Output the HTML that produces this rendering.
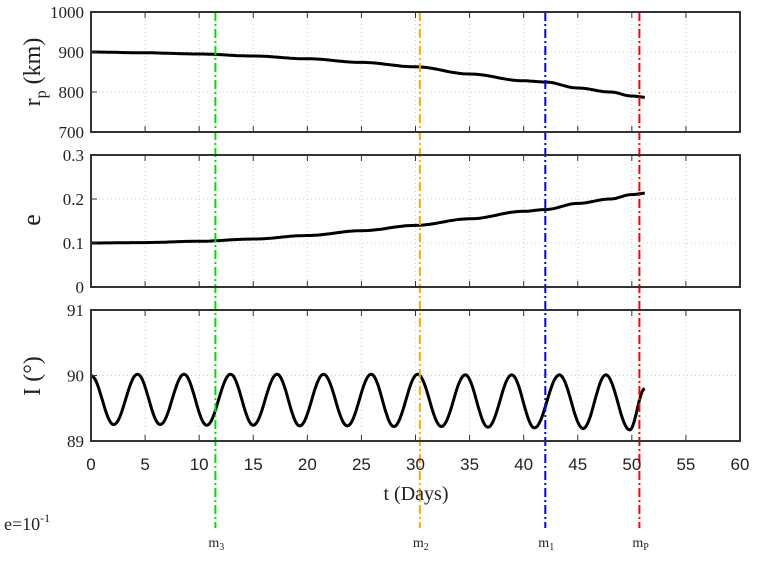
<!DOCTYPE html>
<html><head><meta charset="utf-8"><style>
html,body{margin:0;padding:0;background:#fff;}
svg{display:block;font-family:"Liberation Serif",serif;}
</style></head><body>
<svg id="chart" width="763" height="573" xmlns="http://www.w3.org/2000/svg">
<g id="grid"></g><g id="lines"></g><g id="frames"></g><g id="labels"></g>
</svg>
<script>
const xTicks=[0,5,10,15,20,25,30,35,40,45,50,55,60];
const rpTimes=[0,5,10,15,20,25,30,35,40,42,45,48,50,51.2];
const rpValues=[900,898,895,890,883,874,863,845,828,825,810,800,790,787];
const eTimes=[0,5,10,15,20,25,30,35,40,42,45,48,50,51.2];
const eValues=[0.100,0.101,0.104,0.109,0.117,0.128,0.140,0.155,0.172,0.176,0.190,0.200,0.210,0.213];
const iTimes=[0,2.1,4.3,6.4,8.6,10.7,12.9,15.0,17.2,19.3,21.5,23.7,25.9,28.0,30.2,32.4,34.6,36.7,38.9,41.0,43.3,45.5,47.6,49.8,51.2];
const iValues=[90.0,89.25,90.02,89.25,90.02,89.24,90.02,89.24,90.02,89.23,90.02,89.23,90.02,89.22,90.02,89.22,90.01,89.21,90.01,89.2,90.01,89.19,90.01,89.17,89.8];
const markerTimes=[11.5,30.4,42.0,50.7];
const markerLabels=["3","2","1","P"];
const markerColors=["#00e000","#ffa500","#0000ff","#ff0000"];
const rpTicks=[700,800,900,1000];
const eTicks=[0,0.1,0.2,0.3];
const iTicks=[89,90,91];

const NS="http://www.w3.org/2000/svg";
const X0=91,X1=740;
const xs=t=>X0+(t-0)/(60-0)*(X1-X0);
const panels=[
 {name:"rp",top:12,bot:132,min:700,max:1000,ticks:rpTicks,fmt:v=>String(v)},
 {name:"e",top:155,bot:287,min:0,max:0.3,ticks:eTicks,fmt:v=>v===0?"0":v.toFixed(1)},
 {name:"i",top:310,bot:441,min:89,max:91,ticks:iTicks,fmt:v=>String(v)}
];
function ys(p,v){return p.bot-(v-p.min)/(p.max-p.min)*(p.bot-p.top);}
function mk(tag,attrs,parent,txt){const e=document.createElementNS(NS,tag);for(const k in attrs)e.setAttribute(k,attrs[k]);if(txt!==undefined)e.textContent=txt;document.getElementById(parent).appendChild(e);return e;}

panels.forEach(p=>{
 xTicks.forEach(t=>{
  if(t>0&&t<60){
   const g=mk("line",{x1:xs(t),x2:xs(t),y1:p.top,y2:p.bot,stroke:"#ccc","stroke-width":1,"stroke-dasharray":"1,3"},"grid");
   
   
   mk("line",{x1:xs(t),x2:xs(t),y1:p.bot,y2:p.bot-6,stroke:"#333","stroke-width":1},"frames");
   mk("line",{x1:xs(t),x2:xs(t),y1:p.top,y2:p.top+6,stroke:"#333","stroke-width":1},"frames");
  }
 });
 p.ticks.forEach(v=>{
  const y=ys(p,v);
  if(v!==p.min&&v!==p.max){
   const g=mk("line",{x1:X0,x2:X1,y1:y,y2:y,stroke:"#ccc","stroke-width":1,"stroke-dasharray":"1,3"},"grid");
   
   
   mk("line",{x1:X0,x2:X0+6,y1:y,y2:y,stroke:"#333"},"frames");
  }
  const tl=mk("text",{x:84,y:y+6,"text-anchor":"end","font-size":17,fill:"#222"},"labels",p.fmt(v));
  
  
 });
 const f=mk("rect",{x:X0,y:p.top,width:X1-X0,height:p.bot-p.top,fill:"none",stroke:"#333","stroke-width":2},"frames");
 
 
});

function linePath(p,ts,vs){return ts.map((t,i)=>(i?"L":"M")+xs(t).toFixed(1)+","+ys(p,vs[i]).toFixed(1)).join("");}
function cosPath(p,ts,vs){
 let d="M"+xs(ts[0])+","+ys(p,vs[0]);
 for(let i=0;i<ts.length-1;i++){
  for(let k=1;k<=16;k++){const f=k/16,w=(1-Math.cos(Math.PI*f))/2;
   const t=ts[i]+(ts[i+1]-ts[i])*f,v=vs[i]+(vs[i+1]-vs[i])*w;
   d+="L"+xs(t).toFixed(1)+","+ys(p,v).toFixed(1);}
 }
 return d;
}
let s=mk("path",{d:cosPath(panels[0],rpTimes,rpValues),fill:"none",stroke:"#000","stroke-width":3},"lines");


s=mk("path",{d:cosPath(panels[1],eTimes,eValues),fill:"none",stroke:"#000","stroke-width":3},"lines");


s=mk("path",{d:cosPath(panels[2],iTimes,iValues),fill:"none",stroke:"#000","stroke-width":3},"lines");



markerTimes.forEach((t,i)=>{
 const l=mk("line",{x1:xs(t),x2:xs(t),y1:12,y2:528,stroke:markerColors[i],"stroke-width":2,"stroke-dasharray":"9,3,2,3"},"lines");
 
 
 const tx=mk("text",{x:xs(t)-7,y:547,"font-size":14,fill:"#222"},"labels");
 
 
 tx.appendChild(document.createTextNode("m"));
 const sb=document.createElementNS(NS,"tspan");sb.setAttribute("font-size","10");sb.setAttribute("dy","3");sb.textContent=markerLabels[i];tx.appendChild(sb);
});

xTicks.forEach(t=>{
 const l=mk("text",{x:xs(t),y:470,"text-anchor":"middle","font-size":17,fill:"#222","font-family":"Liberation Sans, sans-serif"},"labels",String(t));
 
 
});
let a=mk("text",{x:416,y:500,"text-anchor":"middle","font-size":20,fill:"#222"},"labels","t (Days)");


a=mk("text",{x:0,y:0,"text-anchor":"middle","font-size":24,fill:"#222",transform:"translate(40,72) rotate(-90)"},"labels");


a.innerHTML='r<tspan font-size="16" dy="6">p</tspan><tspan dy="-6"> (km)</tspan>';
a=mk("text",{x:0,y:0,"text-anchor":"middle","font-size":26,fill:"#222",transform:"translate(40,220) rotate(-90)"},"labels","e");


a=mk("text",{x:0,y:0,"text-anchor":"middle","font-size":24,fill:"#222",transform:"translate(40,376) rotate(-90)"},"labels","I (°)");


a=mk("text",{x:4,y:530,"font-size":18,fill:"#222"},"labels");


a.innerHTML='e=10<tspan font-size="12" dy="-8">-1</tspan>';
</script>
</body></html>
